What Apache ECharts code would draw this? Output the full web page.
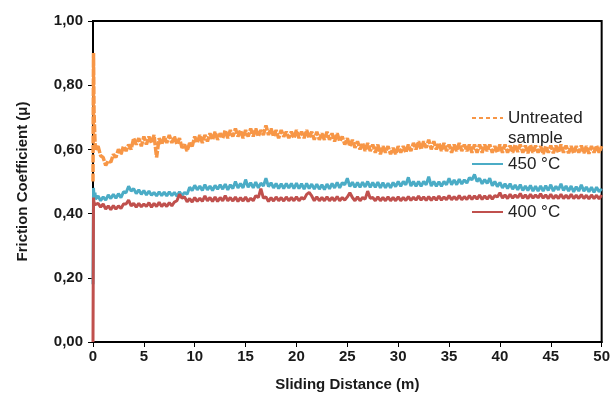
<!DOCTYPE html>
<html>
<head>
<meta charset="utf-8">
<script src="https://cdn.jsdelivr.net/npm/echarts@6/dist/echarts.min.js"></script>
<style>html,body{margin:0;padding:0;background:#fff}#c{width:613px;height:404px}</style>
</head>
<body>
<div id="c"></div>
<script>
// Sliding distance (m)
var distance = [0,0.05,0.1,0.2,
0.25,0.5,0.75,1,1.25,1.5,1.75,2,2.25,2.5,2.75,3,3.25,3.5,3.75,4,4.25,4.5,4.75,5,
5.25,5.5,5.75,6,6.25,6.5,6.75,7,7.25,7.5,7.75,8,8.25,8.5,8.75,9,9.25,9.5,9.75,10,
10.25,10.5,10.75,11,11.25,11.5,11.75,12,12.25,12.5,12.75,13,13.25,13.5,13.75,14,14.25,14.5,14.75,15,
15.25,15.5,15.75,16,16.25,16.5,16.75,17,17.25,17.5,17.75,18,18.25,18.5,18.75,19,19.25,19.5,19.75,20,
20.25,20.5,20.75,21,21.25,21.5,21.75,22,22.25,22.5,22.75,23,23.25,23.5,23.75,24,24.25,24.5,24.75,25,
25.25,25.5,25.75,26,26.25,26.5,26.75,27,27.25,27.5,27.75,28,28.25,28.5,28.75,29,29.25,29.5,29.75,30,
30.25,30.5,30.75,31,31.25,31.5,31.75,32,32.25,32.5,32.75,33,33.25,33.5,33.75,34,34.25,34.5,34.75,35,
35.25,35.5,35.75,36,36.25,36.5,36.75,37,37.25,37.5,37.75,38,38.25,38.5,38.75,39,39.25,39.5,39.75,40,
40.25,40.5,40.75,41,41.25,41.5,41.75,42,42.25,42.5,42.75,43,43.25,43.5,43.75,44,44.25,44.5,44.75,45,
45.25,45.5,45.75,46,46.25,46.5,46.75,47,47.25,47.5,47.75,48,48.25,48.5,48.75,49,49.25,49.5,49.75,50];

var untreated = [0.50,0.90,0.72,0.62,
0.60,0.61,0.58,0.575, 0.55,0.565,0.56,0.585, 0.575,0.60,0.585,0.61, 0.595,0.615,0.60,0.635, 0.615,0.635,0.61,0.64,
0.615,0.64,0.62,0.645, 0.575,0.635,0.615,0.64, 0.62,0.645,0.62,0.64, 0.615,0.635,0.605,0.615, 0.595,0.62,0.61,0.64,
0.62,0.645,0.62,0.645, 0.625,0.65,0.63,0.655, 0.63,0.65,0.635,0.66, 0.635,0.66,0.64,0.665, 0.64,0.66,0.635,0.66,
0.64,0.665,0.64,0.665, 0.64,0.66,0.645,0.675, 0.645,0.665,0.64,0.66, 0.635,0.66,0.64,0.655, 0.635,0.655,0.635,0.66,
0.635,0.655,0.635,0.66, 0.635,0.655,0.63,0.655, 0.63,0.65,0.63,0.655, 0.63,0.65,0.625,0.65, 0.625,0.64,0.615,0.635,
0.61,0.63,0.605,0.625, 0.60,0.62,0.595,0.62, 0.595,0.615,0.59,0.615, 0.585,0.61,0.59,0.61, 0.585,0.605,0.585,0.61,
0.59,0.61,0.59,0.615, 0.595,0.62,0.60,0.625, 0.60,0.625,0.605,0.63, 0.60,0.625,0.60,0.62, 0.595,0.62,0.595,0.615,
0.59,0.615,0.595,0.62, 0.595,0.615,0.595,0.615, 0.59,0.615,0.59,0.615, 0.59,0.615,0.595,0.615, 0.59,0.61,0.59,0.615,
0.59,0.615,0.59,0.612, 0.59,0.615,0.592,0.615, 0.59,0.612,0.588,0.614, 0.59,0.612,0.59,0.61, 0.586,0.61,0.59,0.612,
0.588,0.612,0.59,0.615, 0.59,0.612,0.588,0.61, 0.588,0.61,0.59,0.612, 0.588,0.61,0.587,0.61, 0.59,0.612,0.59,0.61];

var t450 = [0.18,0.48,0.455,0.465,
0.445,0.455,0.44,0.452, 0.442,0.458,0.447,0.46, 0.448,0.462,0.45,0.468, 0.465,0.485,0.47,0.478, 0.462,0.474,0.46,0.472,
0.458,0.47,0.457,0.466, 0.455,0.468,0.456,0.467, 0.455,0.468,0.456,0.466, 0.454,0.468,0.456,0.466, 0.46,0.482,0.472,0.488,
0.474,0.486,0.472,0.49, 0.474,0.486,0.472,0.488, 0.476,0.49,0.476,0.492, 0.474,0.49,0.478,0.5, 0.48,0.494,0.48,0.506,
0.482,0.496,0.48,0.498, 0.48,0.495,0.486,0.51, 0.484,0.496,0.48,0.494, 0.478,0.493,0.478,0.494, 0.48,0.494,0.478,0.495,
0.478,0.493,0.476,0.494, 0.478,0.492,0.476,0.492, 0.476,0.49,0.475,0.492, 0.477,0.494,0.48,0.497, 0.48,0.496,0.49,0.51,
0.484,0.498,0.482,0.497, 0.482,0.498,0.483,0.5, 0.482,0.497,0.482,0.498, 0.48,0.496,0.48,0.495, 0.48,0.497,0.484,0.5,
0.485,0.5,0.49,0.513, 0.486,0.5,0.485,0.5, 0.485,0.5,0.49,0.515, 0.486,0.5,0.485,0.499, 0.485,0.5,0.49,0.51,
0.49,0.505,0.49,0.507, 0.492,0.505,0.495,0.512, 0.505,0.522,0.5,0.51, 0.493,0.506,0.494,0.51, 0.487,0.5,0.484,0.497,
0.48,0.493,0.478,0.493, 0.476,0.489,0.474,0.49, 0.472,0.486,0.472,0.488, 0.47,0.485,0.47,0.486, 0.47,0.487,0.472,0.49,
0.47,0.485,0.474,0.493, 0.472,0.486,0.47,0.486, 0.468,0.484,0.47,0.49, 0.47,0.483,0.468,0.482, 0.466,0.482,0.468,0.478];

var t400 = [0.0,0.45,0.435,0.428,
0.422,0.432,0.42,0.43, 0.414,0.424,0.412,0.425, 0.414,0.424,0.416,0.43, 0.43,0.442,0.424,0.432, 0.42,0.432,0.421,0.43,
0.422,0.434,0.42,0.432, 0.422,0.435,0.422,0.432, 0.422,0.434,0.424,0.436, 0.44,0.46,0.448,0.452, 0.437,0.447,0.436,0.45,
0.438,0.448,0.438,0.455, 0.44,0.45,0.438,0.452, 0.438,0.45,0.44,0.456, 0.44,0.45,0.439,0.452, 0.438,0.45,0.439,0.452,
0.438,0.448,0.44,0.456, 0.45,0.478,0.448,0.452, 0.438,0.45,0.439,0.452, 0.44,0.45,0.439,0.452, 0.44,0.45,0.44,0.452,
0.44,0.45,0.445,0.46, 0.466,0.455,0.44,0.452, 0.44,0.45,0.44,0.452, 0.44,0.45,0.44,0.453, 0.44,0.45,0.442,0.452,
0.465,0.45,0.44,0.452, 0.44,0.45,0.445,0.47, 0.448,0.45,0.44,0.452, 0.44,0.45,0.44,0.452, 0.44,0.45,0.44,0.452,
0.44,0.45,0.441,0.453, 0.441,0.451,0.442,0.455, 0.442,0.452,0.441,0.453, 0.441,0.452,0.442,0.455, 0.442,0.452,0.443,0.456,
0.443,0.453,0.443,0.456, 0.443,0.453,0.444,0.456, 0.444,0.455,0.445,0.458, 0.444,0.455,0.445,0.457, 0.445,0.456,0.452,0.465,
0.448,0.458,0.447,0.46, 0.448,0.458,0.449,0.463, 0.448,0.458,0.447,0.46, 0.448,0.458,0.449,0.462, 0.448,0.458,0.447,0.46,
0.447,0.457,0.447,0.46, 0.447,0.457,0.447,0.46, 0.447,0.457,0.447,0.459, 0.447,0.457,0.446,0.458, 0.447,0.457,0.446,0.458];

var yTicks = ['0,00','0,20','0,40','0,60','0,80','1,00'];
var names = ['Untreated sample','450 °C','400 °C'];
var colors = ['#F79646','#4BACC6','#C0504D'];

function pairs(ys){ return distance.map(function(x,i){ return [x, ys[i]]; }); }

var chart = echarts.init(document.getElementById('c'), null, {renderer:'canvas'});
var font = 'Liberation Sans, Arial, sans-serif';
var legendText = {fontFamily: font, fontSize: 17, color: '#222', lineHeight: 20};
var legendBase = {left: 471, padding: 0, itemWidth: 31, itemHeight: 14, itemGap: 0,
  itemStyle: {opacity: 0}, textStyle: legendText};
chart.setOption({
  animation: false,
  backgroundColor: '#fff',
  grid: {left: 93, right: 11, top: 21, bottom: 62, show: true, borderColor: '#000', borderWidth: 2},
  xAxis: {
    type: 'value', min: 0, max: 50, interval: 5,
    name: 'Sliding Distance (m)', nameLocation: 'middle', nameGap: 35,
    nameTextStyle: {fontFamily: font, fontSize: 15, fontWeight: 'bold', color: '#1a1a1a'},
    axisLine: {show: true, lineStyle: {color: '#000', width: 2}},
    axisTick: {show: true, length: 5, lineStyle: {color: '#000', width: 1}},
    axisLabel: {margin: 7, fontFamily: font, fontSize: 15, fontWeight: 'bold', color: '#1a1a1a'},
    splitLine: {show: false}
  },
  yAxis: {
    type: 'value', min: 0, max: 1, interval: 0.2,
    name: 'Friction Coefficient (μ)', nameLocation: 'middle', nameGap: 63,
    nameTextStyle: {fontFamily: font, fontSize: 15, fontWeight: 'bold', color: '#1a1a1a'},
    axisLine: {show: true, lineStyle: {color: '#000', width: 2}},
    axisTick: {show: true, length: 5, lineStyle: {color: '#000', width: 1}},
    axisLabel: {margin: 10, fontFamily: font, fontSize: 15, fontWeight: 'bold', color: '#1a1a1a',
      formatter: function(v){ return yTicks[Math.round(v/0.2)]; }},
    splitLine: {show: false}
  },
  legend: [
    Object.assign({}, legendBase, {data: [names[0]], top: 88,
      lineStyle: {width: 2, type: [4,3]},
      formatter: function(){ return ' \nUntreated\nsample'; }}),
    Object.assign({}, legendBase, {data: [names[1]], top: 154, lineStyle: {width: 2}}),
    Object.assign({}, legendBase, {data: [names[2]], top: 202, lineStyle: {width: 2}})
  ],
  series: [
    {name: names[0], type: 'line', data: pairs(untreated), symbol: 'none', z: 3,
     lineStyle: {color: colors[0], width: 3.5, type: [8,1.5]}, itemStyle: {color: colors[0]}},
    {name: names[1], type: 'line', data: pairs(t450), symbol: 'none', z: 2,
     lineStyle: {color: colors[1], width: 3}, itemStyle: {color: colors[1]}},
    {name: names[2], type: 'line', data: pairs(t400), symbol: 'none', z: 2,
     lineStyle: {color: colors[2], width: 3}, itemStyle: {color: colors[2]}}
  ]
});
</script>
</body>
</html>
